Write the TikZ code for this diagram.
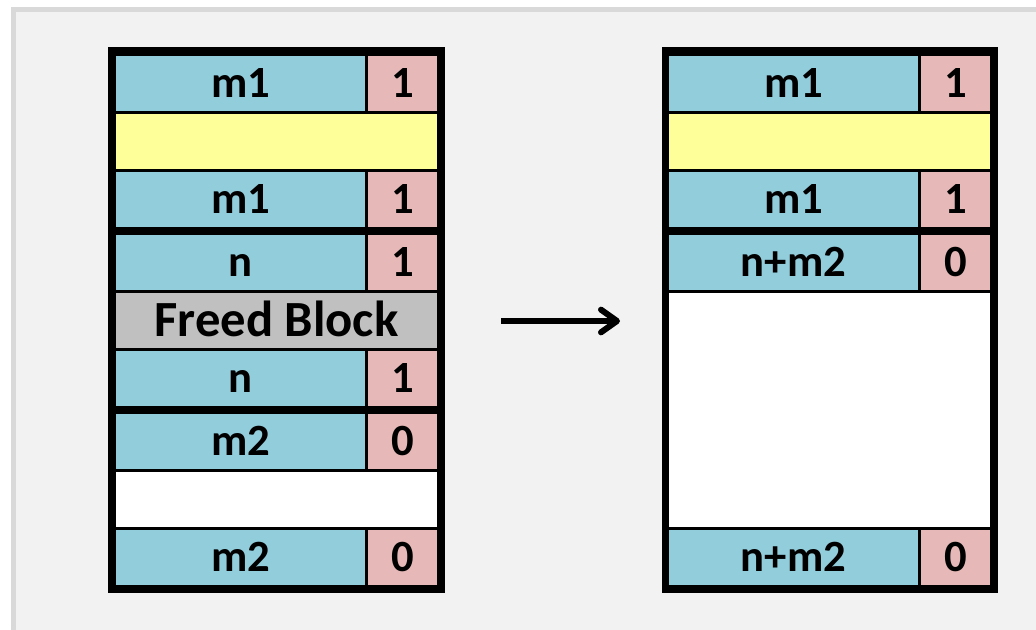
\documentclass[tikz,border=0pt]{standalone}
\usepackage{fontspec}
\setmainfont{Carlito}
\usetikzlibrary{arrows.meta}
\definecolor{hdr}{HTML}{92CDDC}
\definecolor{tagc}{HTML}{E6B9B8}
\definecolor{padc}{HTML}{FFFF99}
\definecolor{freedc}{HTML}{C0C0C0}
\definecolor{panel}{HTML}{F2F2F2}
\definecolor{rim}{HTML}{D9D9D9}
\begin{document}
\begin{tikzpicture}[x=0.75pt,y=-0.75pt,
  cell/.style={inner sep=0pt, outer sep=0pt, anchor=north west,
    text height=21.2pt, text depth=0pt,
    font=\bfseries\fontsize{33.5}{34}\selectfont},
  hdrcell/.style={cell, fill=hdr, minimum width=186.75pt, minimum height=41.25pt},
  tagcell/.style={cell, fill=tagc, minimum width=51.75pt, minimum height=41.25pt},
  widecell/.style={cell, minimum width=240.75pt, minimum height=41.25pt},
  bigtext/.style={font=\bfseries\fontsize{38}{39}\selectfont, text height=24pt},
  frame/.style={fill=black},
]
\useasboundingbox (0,0) rectangle (1036,629);
\fill[white] (0,0) rectangle (1036,629);
\begin{scope}
  \clip (0,0) rectangle (1036,629);
  \draw[rim, line width=3.75pt, fill=panel] (13,9.5) rectangle (1060,660);
\end{scope}

% left heap: allocated, freed, free
\fill[frame] (108,47) rectangle (445,593);
\node[hdrcell] (L1h) at (116,56) {m1};
\node[tagcell] (L1t) at (368,56) {1};
\node[widecell, fill=padc] (L2) at (116,114) {};
\node[hdrcell] (L3h) at (116,172) {m1};
\node[tagcell] (L3t) at (368,172) {1};
\node[hdrcell] (L4h) at (116,235) {n};
\node[tagcell] (L4t) at (368,235) {1};
\node[widecell, fill=freedc, bigtext] (L5) at (116,293) {Freed Block};
\node[hdrcell] (L6h) at (116,351) {n};
\node[tagcell] (L6t) at (368,351) {1};
\node[hdrcell] (L7h) at (116,414) {m2};
\node[tagcell] (L7t) at (368,414) {0};
\node[widecell, fill=white] (L8) at (116,472) {};
\node[hdrcell] (L9h) at (116,530) {m2};
\node[tagcell] (L9t) at (368,530) {0};

% right heap: coalesced with the next block
\fill[frame] (662,47) rectangle (998,593);
\node[hdrcell] (R1h) at (669,56) {m1};
\node[tagcell] (R1t) at (921,56) {1};
\node[widecell, fill=padc] (R2) at (669,114) {};
\node[hdrcell] (R3h) at (669,172) {m1};
\node[tagcell] (R3t) at (921,172) {1};
\node[hdrcell] (R4h) at (669,235) {n+m2};
\node[tagcell] (R4t) at (921,235) {0};
\node[widecell, fill=white, minimum height=175.5pt] (R5) at (669,293) {};
\node[hdrcell] (R9h) at (669,530) {n+m2};
\node[tagcell] (R9t) at (921,530) {0};

% transition arrow
\coordinate (from) at (501,321);
\coordinate (to) at (620,321);
\draw[line width=4.5pt, -{Straight Barb[length=12pt,width=17pt,round]}] (from) -- (to);
\end{tikzpicture}
\end{document}
